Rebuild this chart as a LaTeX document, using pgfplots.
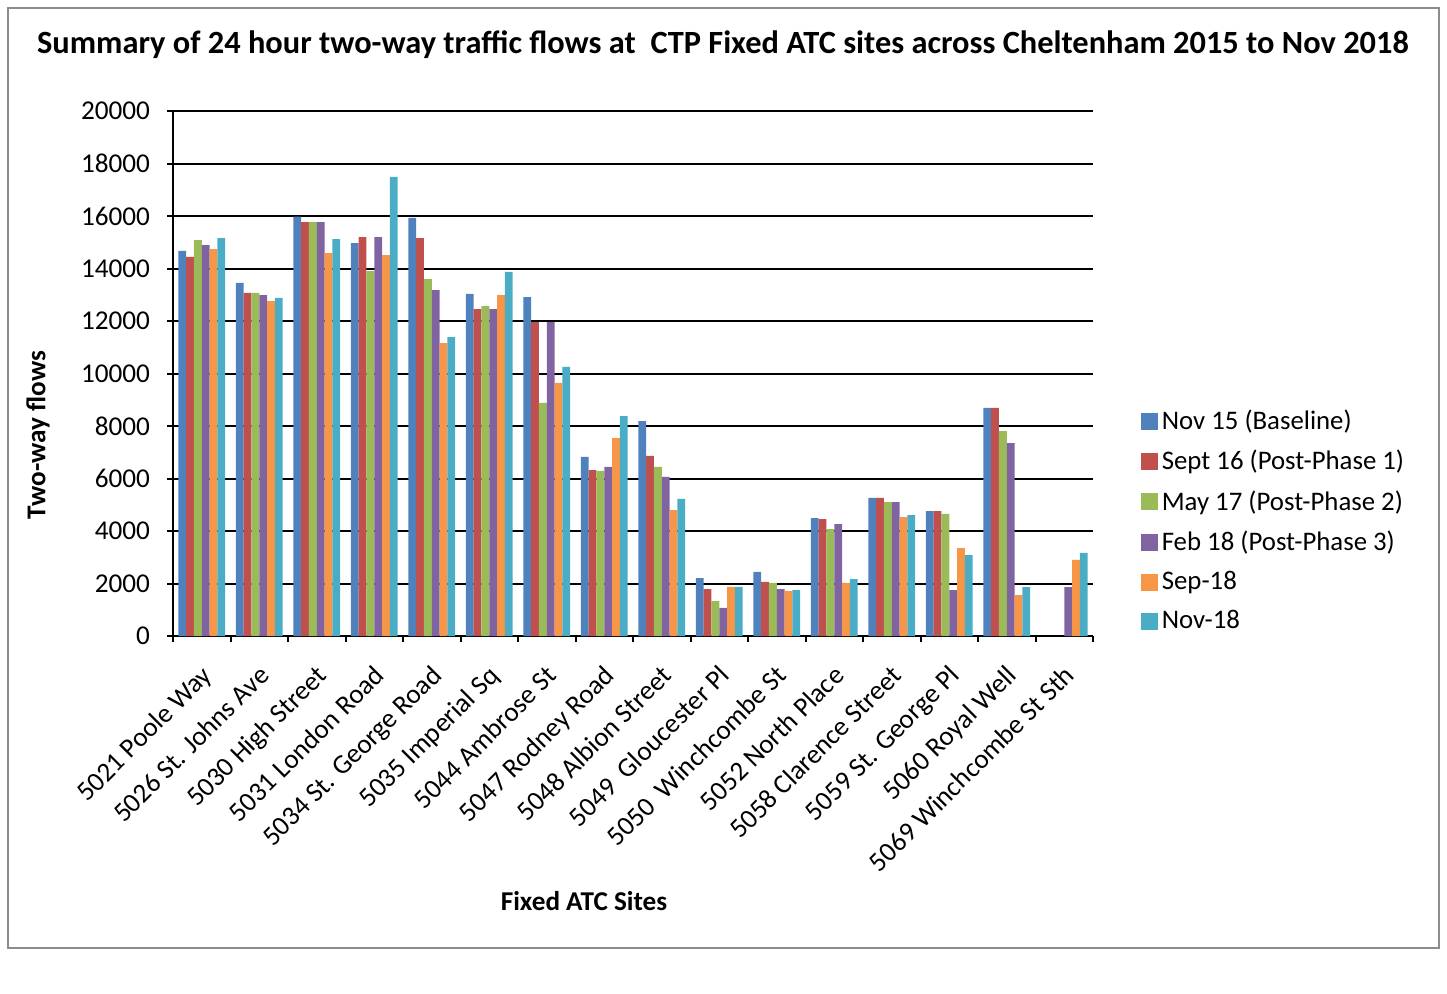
\documentclass[border=0pt]{standalone}
\usepackage{pgfplots}
\usepackage{pgfplotstable}
\pgfplotsset{compat=1.18}
\usepackage{fontspec}
\setmainfont{Carlito}
\definecolor{c1}{HTML}{4F81BD}
\definecolor{c2}{HTML}{C0504D}
\definecolor{c3}{HTML}{9BBB59}
\definecolor{c4}{HTML}{8064A2}
\definecolor{c5}{HTML}{F79646}
\definecolor{c6}{HTML}{4BACC6}
\pgfplotstableread{
x a b c d e f
0 14670 14440 15085 14895 14740 15160
1 13450 13070 13070 12990 12760 12880
2 15975 15770 15770 15770 14590 15120
3 14970 15200 13900 15200 14510 17490
4 15925 15160 13600 13180 11160 11390
5 13030 12450 12570 12450 12990 13870
6 12910 11960 8880 11960 9640 10250
7 6820 6320 6290 6440 7540 8380
8 8190 6860 6440 6060 4800 5220
9 2210 1790 1330 1070 1870 1870
10 2440 2060 2020 1790 1710 1750
11 4490 4450 4070 4260 2020 2170
12 5260 5260 5100 5100 4530 4610
13 4760 4760 4650 1750 3350 3080
14 8690 8690 7810 7350 1560 1860
15 nan nan nan 1860 2900 3170
}\datatable
\begin{document}
\begin{tikzpicture}
\path[use as bounding box] (0,0) rectangle (723.5pt,-496.5pt);
\draw[color=black!45, line width=1pt] (4pt,-4pt) rectangle (719.5pt,-474pt);
\node[font=\fontsize{16.2}{19}\selectfont\bfseries] at (361.5pt,-22.5pt) {Summary of 24 hour two-way traffic flows at\ \ CTP Fixed ATC sites across Cheltenham 2015 to Nov 2018};
\node[font=\fontsize{13.6}{16}\selectfont\bfseries, rotate=90] at (19pt,-217.5pt) {Two-way flows};
\node[font=\fontsize{13.6}{16}\selectfont\bfseries] at (292pt,-450.5pt) {Fixed ATC Sites};
\begin{axis}[
  at={(86.5pt,-318pt)}, anchor=south west,
  scale only axis, width=460pt, height=262.5pt,
  ybar=0pt, bar width=3.9pt,
  xmin=-0.5, xmax=15.5, ymin=0, ymax=20000,
  ytick={0,2000,...,20000},
  scaled y ticks=false,
  xtick={0,...,15},
  xticklabels={5021 Poole Way,5026 St. Johns Ave,5030 High Street,5031 London Road,5034 St. George Road,5035 Imperial Sq,5044 Ambrose St,5047 Rodney Road,5048 Albion Street,5049\ \ Gloucester Pl,5050\ \ Winchcombe St,5052 North Place,5058 Clarence Street,5059 St. George Pl,5060 Royal Well,5069 Winchcombe St Sth},
  minor xtick={-0.5,0.5,...,15.5},
  major x tick style={draw=none},
  minor tick length=3pt,
  major tick length=3pt,
  tick align=outside,
  xtick pos=bottom, ytick pos=left,
  ymajorgrids, grid style={black, line width=1pt},
  axis line style={black, line width=1pt},
  tick style={black, line width=1pt},
  x tick label style={xshift=-1pt, yshift=-6pt, rotate=45, anchor=north east, font=\fontsize{13.6}{16}\selectfont},
  y tick label style={font=\fontsize{13.6}{16}\selectfont, xshift=-5pt},
  /pgf/number format/assume math mode=true,
  /pgf/number format/1000 sep={},
  axis x line*=bottom, axis y line*=left,
  every axis plot post/.append style={draw=none},
  legend image code/.code={\fill[#1] (0pt,-4.25pt) rectangle (8.5pt,4.25pt);},
  legend style={at={(axis description cs:1.045,0.447)}, anchor=north west, draw=none, fill=none,
    font=\fontsize{13.4}{16}\selectfont, row sep=4.9pt, legend cell align=left},
]
\addplot[fill=c1] table[x=x,y=a]{\datatable};
\addplot[fill=c2] table[x=x,y=b]{\datatable};
\addplot[fill=c3] table[x=x,y=c]{\datatable};
\addplot[fill=c4] table[x=x,y=d]{\datatable};
\addplot[fill=c5] table[x=x,y=e]{\datatable};
\addplot[fill=c6] table[x=x,y=f]{\datatable};
\legend{Nov 15 (Baseline),Sept 16 (Post-Phase 1),May 17 (Post-Phase 2),Feb 18 (Post-Phase 3),Sep-18,Nov-18}
\end{axis}
\end{tikzpicture}
\end{document}
